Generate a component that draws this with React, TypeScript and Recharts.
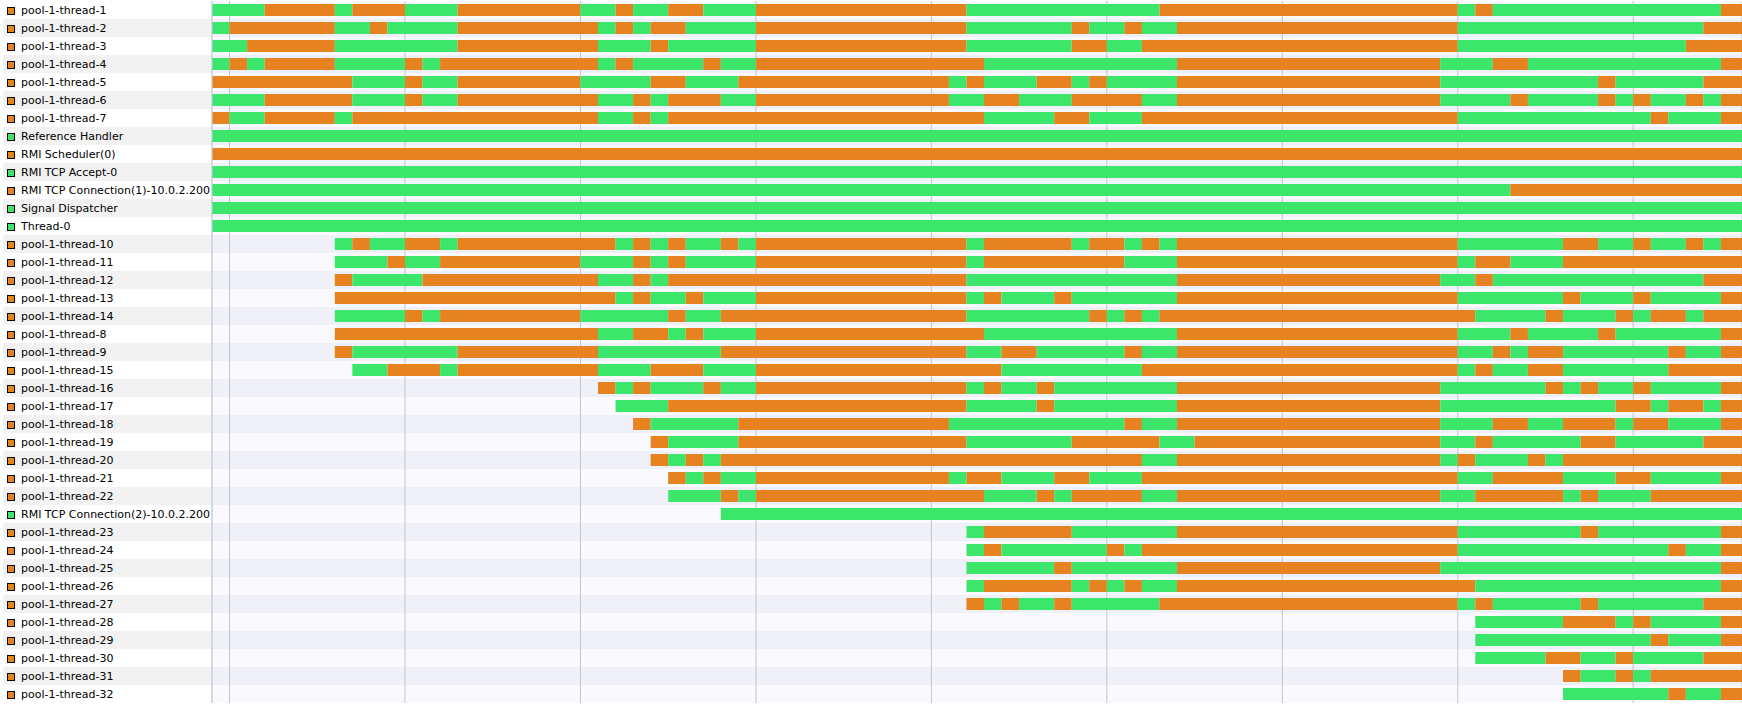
import React from 'react';
import { BarChart, Bar, XAxis, YAxis, CartesianGrid, Cell } from 'recharts';

type State = 'R' | 'W'; // R = running (green), W = waiting (orange)
type Transition = [number, State];

const threadNames: string[] = [
  'pool-1-thread-1',
  'pool-1-thread-2',
  'pool-1-thread-3',
  'pool-1-thread-4',
  'pool-1-thread-5',
  'pool-1-thread-6',
  'pool-1-thread-7',
  'Reference Handler',
  'RMI Scheduler(0)',
  'RMI TCP Accept-0',
  'RMI TCP Connection(1)-10.0.2.200',
  'Signal Dispatcher',
  'Thread-0',
  'pool-1-thread-10',
  'pool-1-thread-11',
  'pool-1-thread-12',
  'pool-1-thread-13',
  'pool-1-thread-14',
  'pool-1-thread-8',
  'pool-1-thread-9',
  'pool-1-thread-15',
  'pool-1-thread-16',
  'pool-1-thread-17',
  'pool-1-thread-18',
  'pool-1-thread-19',
  'pool-1-thread-20',
  'pool-1-thread-21',
  'pool-1-thread-22',
  'RMI TCP Connection(2)-10.0.2.200',
  'pool-1-thread-23',
  'pool-1-thread-24',
  'pool-1-thread-25',
  'pool-1-thread-26',
  'pool-1-thread-27',
  'pool-1-thread-28',
  'pool-1-thread-29',
  'pool-1-thread-30',
  'pool-1-thread-31',
  'pool-1-thread-32',
];

// observation end (seconds) and time grid ticks
const END = 87.2;
const timeTicks: number[] = [1, 11, 21, 31, 41, 51, 61, 71, 81];

// state changes per thread: [time, new state]; each thread runs to END
const transitions: Transition[][] = [
  [[0,'R'],[3,'W'],[7,'R'],[8,'W'],[11,'R'],[14,'W'],[21,'R'],[23,'W'],[24,'R'],[26,'W'],[28,'R'],[31,'W'],[43,'R'],[54,'W'],[71,'R'],[72,'W'],[73,'R'],[86,'W']],
  [[0,'R'],[1,'W'],[7,'R'],[9,'W'],[10,'R'],[14,'W'],[22,'R'],[23,'W'],[24,'R'],[25,'W'],[27,'R'],[31,'W'],[43,'R'],[49,'W'],[50,'R'],[52,'W'],[53,'R'],[55,'W'],[71,'R'],[85,'W']],
  [[0,'R'],[2,'W'],[7,'R'],[14,'W'],[22,'R'],[25,'W'],[26,'R'],[31,'W'],[43,'R'],[49,'W'],[51,'R'],[53,'W'],[71,'R'],[84,'W']],
  [[0,'R'],[1,'W'],[2,'R'],[3,'W'],[7,'R'],[11,'W'],[12,'R'],[13,'W'],[22,'R'],[23,'W'],[24,'R'],[28,'W'],[29,'R'],[31,'W'],[44,'R'],[55,'W'],[70,'R'],[73,'W'],[75,'R'],[86,'W']],
  [[0,'W'],[8,'R'],[11,'W'],[12,'R'],[14,'W'],[21,'R'],[25,'W'],[27,'R'],[30,'W'],[42,'R'],[43,'W'],[44,'R'],[47,'W'],[49,'R'],[50,'W'],[51,'R'],[55,'W'],[70,'R'],[79,'W'],[80,'R'],[85,'W']],
  [[0,'R'],[3,'W'],[8,'R'],[11,'W'],[12,'R'],[14,'W'],[22,'R'],[24,'W'],[25,'R'],[26,'W'],[29,'R'],[31,'W'],[42,'R'],[44,'W'],[46,'R'],[49,'W'],[53,'R'],[55,'W'],[70,'R'],[74,'W'],[75,'R'],[79,'W'],[80,'R'],[81,'W'],[82,'R'],[84,'W'],[85,'R'],[86,'W']],
  [[0,'W'],[1,'R'],[3,'W'],[7,'R'],[8,'W'],[22,'R'],[24,'W'],[25,'R'],[26,'W'],[44,'R'],[48,'W'],[50,'R'],[53,'W'],[71,'R'],[82,'W'],[83,'R'],[86,'W']],
  [[0,'R']],
  [[0,'W']],
  [[0,'R']],
  [[0,'R'],[74,'W']],
  [[0,'R']],
  [[0,'R']],
  [[7,'R'],[8,'W'],[9,'R'],[11,'W'],[13,'R'],[14,'W'],[23,'R'],[24,'W'],[25,'R'],[26,'W'],[27,'R'],[29,'W'],[30,'R'],[31,'W'],[43,'R'],[44,'W'],[49,'R'],[50,'W'],[52,'R'],[53,'W'],[54,'R'],[55,'W'],[71,'R'],[77,'W'],[79,'R'],[81,'W'],[82,'R'],[84,'W'],[85,'R'],[86,'W']],
  [[7,'R'],[10,'W'],[11,'R'],[13,'W'],[21,'R'],[24,'W'],[25,'R'],[26,'W'],[27,'R'],[31,'W'],[43,'R'],[44,'W'],[52,'R'],[55,'W'],[71,'R'],[72,'W'],[74,'R'],[77,'W']],
  [[7,'W'],[8,'R'],[12,'W'],[22,'R'],[24,'W'],[25,'R'],[26,'W'],[43,'R'],[55,'W'],[70,'R'],[72,'W'],[73,'R'],[85,'W']],
  [[7,'W'],[23,'R'],[24,'W'],[25,'R'],[27,'W'],[28,'R'],[31,'W'],[43,'R'],[44,'W'],[45,'R'],[48,'W'],[49,'R'],[55,'W'],[71,'R'],[77,'W'],[78,'R'],[81,'W'],[82,'R'],[86,'W']],
  [[7,'R'],[11,'W'],[12,'R'],[13,'W'],[21,'R'],[26,'W'],[27,'R'],[29,'W'],[43,'R'],[50,'W'],[51,'R'],[52,'W'],[53,'R'],[54,'W'],[72,'R'],[76,'W'],[77,'R'],[80,'W'],[81,'R'],[82,'W'],[84,'R'],[85,'W']],
  [[7,'W'],[22,'R'],[24,'W'],[26,'R'],[27,'W'],[28,'R'],[31,'W'],[44,'R'],[55,'W'],[71,'R'],[74,'W'],[75,'R'],[79,'W'],[80,'R'],[86,'W']],
  [[7,'W'],[8,'R'],[14,'W'],[22,'R'],[29,'W'],[43,'R'],[45,'W'],[47,'R'],[52,'W'],[53,'R'],[55,'W'],[71,'R'],[73,'W'],[74,'R'],[75,'W'],[77,'R'],[83,'W'],[84,'R'],[86,'W']],
  [[8,'R'],[10,'W'],[13,'R'],[14,'W'],[22,'R'],[25,'W'],[28,'R'],[31,'W'],[45,'R'],[53,'W'],[71,'R'],[72,'W'],[73,'R'],[75,'W'],[77,'R'],[83,'W']],
  [[22,'W'],[23,'R'],[24,'W'],[25,'R'],[28,'W'],[29,'R'],[31,'W'],[43,'R'],[44,'W'],[45,'R'],[47,'W'],[48,'R'],[55,'W'],[70,'R'],[76,'W'],[77,'R'],[78,'W'],[79,'R'],[81,'W'],[82,'R'],[86,'W']],
  [[23,'R'],[26,'W'],[43,'R'],[47,'W'],[48,'R'],[55,'W'],[70,'R'],[80,'W'],[82,'R'],[83,'W'],[85,'R'],[86,'W']],
  [[24,'W'],[25,'R'],[30,'W'],[42,'R'],[52,'W'],[53,'R'],[55,'W'],[70,'R'],[73,'W'],[75,'R'],[77,'W'],[80,'R'],[81,'W'],[83,'R'],[86,'W']],
  [[25,'W'],[26,'R'],[30,'W'],[43,'R'],[49,'W'],[54,'R'],[56,'W'],[70,'R'],[72,'W'],[73,'R'],[78,'W'],[80,'R'],[85,'W']],
  [[25,'W'],[26,'R'],[27,'W'],[28,'R'],[29,'W'],[53,'R'],[55,'W'],[70,'R'],[71,'W'],[72,'R'],[75,'W'],[76,'R'],[77,'W']],
  [[26,'W'],[27,'R'],[28,'W'],[29,'R'],[31,'W'],[42,'R'],[43,'W'],[45,'R'],[48,'W'],[50,'R'],[53,'W'],[71,'R'],[73,'W'],[77,'R'],[80,'W'],[82,'R'],[86,'W']],
  [[26,'R'],[29,'W'],[30,'R'],[31,'W'],[44,'R'],[47,'W'],[48,'R'],[49,'W'],[53,'R'],[55,'W'],[70,'R'],[72,'W'],[77,'R'],[78,'W'],[79,'R'],[82,'W']],
  [[29,'R']],
  [[43,'R'],[44,'W'],[49,'R'],[55,'W'],[71,'R'],[78,'W'],[79,'R'],[86,'W']],
  [[43,'R'],[44,'W'],[45,'R'],[51,'W'],[52,'R'],[53,'W'],[71,'R'],[83,'W'],[84,'R'],[86,'W']],
  [[43,'R'],[48,'W'],[49,'R'],[55,'W'],[70,'R'],[86,'W']],
  [[43,'R'],[44,'W'],[49,'R'],[50,'W'],[51,'R'],[52,'W'],[53,'R'],[55,'W'],[72,'R'],[86,'W']],
  [[43,'W'],[44,'R'],[45,'W'],[46,'R'],[48,'W'],[49,'R'],[54,'W'],[71,'R'],[72,'W'],[73,'R'],[78,'W'],[79,'R'],[85,'W']],
  [[72,'R'],[77,'W'],[80,'R'],[81,'W'],[82,'R'],[86,'W']],
  [[72,'R'],[82,'W'],[83,'R'],[86,'W']],
  [[72,'R'],[76,'W'],[78,'R'],[80,'W'],[81,'R'],[85,'W']],
  [[77,'W'],[78,'R'],[80,'W'],[81,'R'],[82,'W']],
  [[77,'R'],[83,'W'],[84,'R'],[86,'W']],
];

const stateColor: Record<State, string> = { R: '#3CE66B', W: '#E6821F' };
const plotStripes = ['#fafafe', '#eff0f8'];
const labelStripes = ['#ffffff', '#f2f2f2'];

// build stacked rows: s0 = offset before the thread started, s1.. = state segments
const maxSegs = Math.max(...transitions.map((t) => t.length));
const segKeys = Array.from({ length: maxSegs + 1 }, (_, k) => `s${k}`);

const rows = threadNames.map((name, i) => {
  const tr = transitions[i];
  const row: Record<string, any> = { name, span: END, s0: tr[0][0] };
  tr.forEach(([start], k) => {
    const end = k + 1 < tr.length ? tr[k + 1][0] : END;
    row[`s${k + 1}`] = end - start;
  });
  return row;
});

const segColor = (rowIdx: number, k: number) => {
  if (k === 0) return 'transparent';
  const seg = transitions[rowIdx][k - 1];
  return seg ? stateColor[seg[1]] : 'transparent';
};

const RowLabel = (props: any) => {
  const { y, payload } = props;
  const idx = threadNames.indexOf(payload.value);
  const tr = transitions[idx];
  const last = tr[tr.length - 1][1];
  return (
    <g>
      <rect x={3} y={y - 9} width={208} height={18} fill={labelStripes[idx % 2]} />
      <rect x={7.5} y={y - 2.5} width={7} height={7} fill={stateColor[last]} stroke="#000" strokeWidth={1} />
      <text x={21} y={y + 4} fontFamily="DejaVu Sans" fontSize={11} fill="#000">
        {payload.value}
      </text>
    </g>
  );
};

const W = 1742;
const H = 709;
const MARGIN = { top: 1, right: 0, bottom: 6, left: 0 };

export default function App() {
  return (
    <div style={{ position: 'relative', width: W, height: H, background: '#fff' }}>
      <style>{'body{margin:0;}'}</style>
      {/* row stripes layer */}
      <div style={{ position: 'absolute', left: 0, top: 0 }}>
        <BarChart width={W} height={H} data={rows} layout="vertical" margin={MARGIN} barCategoryGap={0} barGap={0}>
          <XAxis type="number" domain={[0, END]} allowDataOverflow hide />
          <YAxis type="category" dataKey="name" width={212} interval={0} tick={false} tickLine={false} axisLine={false} />
          <Bar dataKey="span" isAnimationActive={false}>
            {rows.map((r, i) => (
              <Cell key={r.name} fill={plotStripes[i % 2]} />
            ))}
          </Bar>
        </BarChart>
      </div>
      {/* grid, thread state bars and labels */}
      <div style={{ position: 'absolute', left: 0, top: 0 }}>
        <BarChart width={W} height={H} data={rows} layout="vertical" margin={MARGIN} barCategoryGap={3}>
          <CartesianGrid horizontal={false} vertical={true} stroke="#c4c4ca" strokeWidth={1} />
          <XAxis type="number" domain={[0, END]} ticks={timeTicks} allowDataOverflow hide />
          <YAxis
            type="category"
            dataKey="name"
            width={212}
            interval={0}
            tickLine={false}
            axisLine={{ stroke: '#c8d2ea' }}
            tick={<RowLabel />}
          />
          {segKeys.map((key, k) => (
            <Bar key={key} dataKey={key} stackId="t" barSize={12} isAnimationActive={false}>
              {rows.map((r, i) => (
                <Cell key={r.name} fill={segColor(i, k)} />
              ))}
            </Bar>
          ))}
        </BarChart>
      </div>
    </div>
  );
}
